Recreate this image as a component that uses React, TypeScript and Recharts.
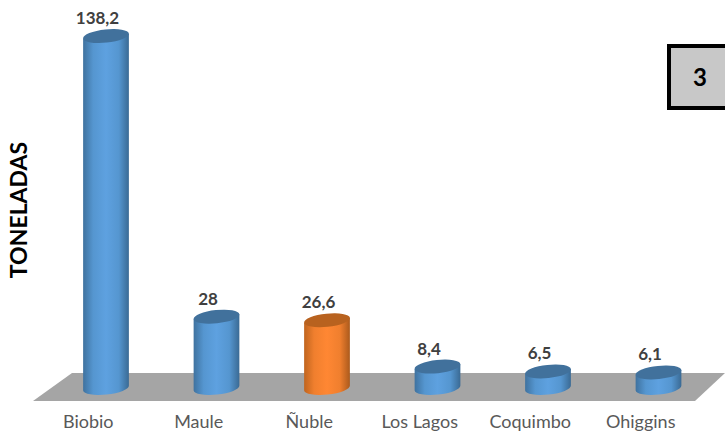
import { BarChart, Bar, XAxis, YAxis, Cell, LabelList, ReferenceArea } from "recharts";

const regions = ["Biobio", "Maule", "Ñuble", "Los Lagos", "Coquimbo", "Ohiggins"];
const tons = [138.2, 28, 26.6, 8.4, 6.5, 6.1];
const barColors = ["blue", "blue", "orange", "blue", "blue", "blue"];

const data = regions.map((region, i) => ({ region, tons: tons[i], tone: barColors[i] }));

const TILT = 6;
const RY = 6.6;

const tones: Record<string, { top: string; grad: string }> = {
  blue: { top: "#41719c", grad: "url(#blueBody)" },
  orange: { top: "#b8621f", grad: "url(#orangeBody)" },
};

// tilted cylinder, same look as the excel 3d columns
function Cylinder(props: any) {
  const { x, y, width, height, payload } = props;
  const tone = tones[payload.tone];
  const rx = width / 2;
  const cx = x + rx;
  const rad = (TILT * Math.PI) / 180;
  const dx = rx * Math.cos(rad);
  const dy = rx * Math.sin(rad);
  const base = y + height;
  const body = `M${cx - dx},${y + dy} L${cx - dx},${base + dy} A${rx},${RY} ${-TILT} 0 0 ${cx + dx},${base - dy} L${cx + dx},${y - dy} Z`;
  return (
    <g>
      <path d={body} fill={tone.grad} />
      <ellipse cx={cx} cy={y} rx={rx} ry={RY} fill={tone.top} transform={`rotate(${-TILT} ${cx} ${y})`} />
    </g>
  );
}

// grey floor under the columns
function Floor(props: any) {
  const { x, y, width, height } = props;
  const pts = [
    [x - 18, y + height],
    [x + 21, y],
    [x + width + 11, y],
    [x + width - 19, y + height],
  ];
  return <polygon points={pts.map((p) => p.join(",")).join(" ")} fill="#a5a5a5" />;
}

function ValueLabel(props: any) {
  const { x, y, width, value } = props;
  return (
    <text
      x={x + width / 2 - 8.5}
      y={y - 12}
      textAnchor="middle"
      fontFamily="Lato, sans-serif"
      fontWeight={700}
      fontSize={17}
      fill="#404040"
    >
      {String(value).replace(".", ",")}
    </text>
  );
}

export default function App() {
  return (
    <div style={{ position: "absolute", left: 0, top: 0, width: 725, height: 431, overflow: "hidden", background: "#fff" }}>
      <BarChart
        width={725}
        height={431}
        data={data}
        margin={{ top: 20, right: 11, bottom: 0, left: 0 }}
      >
        <defs>
          <linearGradient id="blueBody" x1="0" y1="0" x2="1" y2="0">
            <stop offset="0%" stopColor="#3f729f" />
            <stop offset="22%" stopColor="#5596d0" />
            <stop offset="50%" stopColor="#5ea1e0" />
            <stop offset="78%" stopColor="#5596d0" />
            <stop offset="100%" stopColor="#3a6a94" />
          </linearGradient>
          <linearGradient id="orangeBody" x1="0" y1="0" x2="1" y2="0">
            <stop offset="0%" stopColor="#c0651f" />
            <stop offset="22%" stopColor="#f07f2e" />
            <stop offset="50%" stopColor="#ff8733" />
            <stop offset="78%" stopColor="#f07f2e" />
            <stop offset="100%" stopColor="#ab5a1c" />
          </linearGradient>
        </defs>
        <YAxis
          type="number"
          domain={[-5.5, 144.5]}
          width={51}
          tick={false}
          axisLine={false}
          tickLine={false}
          label={{
            value: "TONELADAS",
            angle: -90,
            position: "insideLeft",
            offset: 19,
            dy: -1,
            style: { fontFamily: "Lato, sans-serif", fontWeight: 700, fontSize: 23, fill: "#000", textAnchor: "middle" },
          }}
        />
        <XAxis
          dataKey="region"
          height={29}
          axisLine={false}
          tickLine={false}
          interval={0}
          tickMargin={7}
          tick={{ fontFamily: "Lato, sans-serif", fontSize: 18, fill: "#595959", dx: -18 }}
        />
        <ReferenceArea y1={-5.1} y2={5.9} shape={Floor} />
        <Bar dataKey="tons" barSize={46} isAnimationActive={false} shape={Cylinder}>
          {data.map((d) => (
            <Cell key={d.region} />
          ))}
          <LabelList dataKey="tons" content={ValueLabel} />
        </Bar>
      </BarChart>
      <div
        style={{
          position: "absolute",
          left: 667,
          top: 44,
          width: 80,
          height: 58,
          border: "4px solid #000",
          background: "#c8c8c8",
          fontFamily: "Lato, sans-serif",
          fontWeight: 700,
          fontSize: 24,
          color: "#000",
        }}
      >
        <span style={{ position: "absolute", left: 22, top: 14 }}>3</span>
      </div>
    </div>
  );
}
